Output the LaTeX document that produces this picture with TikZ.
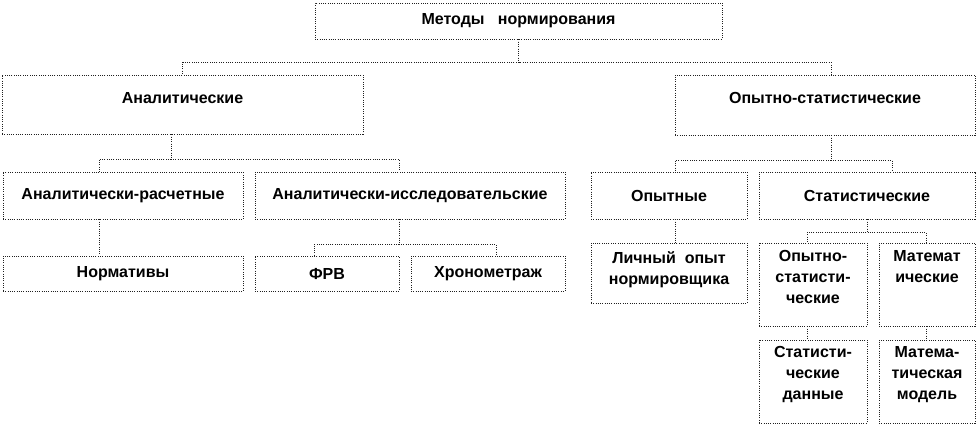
\documentclass[tikz,border=0pt]{standalone}
\usepackage{fontspec}
\setmainfont{Liberation Sans}
\usetikzlibrary{positioning, calc}
\definecolor{LineGray}{HTML}{202020}
\tikzset{
    % Box styles
    methodbox/.style={
        rectangle,
        draw=LineGray,
        densely dotted,
        line width=0.7pt,
        fill=white,
        align=center,
        inner sep=2pt,
        font=\bfseries\fontsize{12}{15.7}\selectfont
    },
    % Connector style
    link/.style={
        draw=LineGray,
        densely dotted,
        line width=0.7pt
    }
}
\begin{document}
\begin{tikzpicture}[x=0.75pt, y=-0.75pt]
    \useasboundingbox (0,0) rectangle (978,426);

    % Top level
    \node[methodbox, minimum width=407*0.75pt, minimum height=36*0.75pt] (metody) at (518.5,21) {Методы \ \ нормирования};

    % Second level
    \node[methodbox, text depth=10pt, minimum width=361*0.75pt, minimum height=59*0.75pt] (anal) at (182.5,104.5) {Аналитические};
    \node[methodbox, text depth=10pt, minimum width=300*0.75pt, minimum height=60*0.75pt] (opst) at (825,105) {Опытно-статистические};

    % Third level
    \node[methodbox, minimum width=240*0.75pt, minimum height=47*0.75pt] (ar) at (123,195.5) {Аналитически-расчетные};
    \node[methodbox, minimum width=310*0.75pt, minimum height=47*0.75pt] (ai) at (410,195.5) {Аналитически-исследовательские};
    \node[methodbox, minimum width=156*0.75pt, minimum height=47*0.75pt] (opyt) at (669,195.5) {Опытные};
    \node[methodbox, minimum width=216*0.75pt, minimum height=47*0.75pt] (stat) at (867,195.5) {Статистические};

    % Fourth level
    \node[methodbox, minimum width=240*0.75pt, minimum height=35*0.75pt] (norm) at (123,273.5) {Нормативы};
    \node[methodbox, minimum width=144*0.75pt, minimum height=35*0.75pt] (frv) at (327,273.5) {ФРВ};
    \node[methodbox, minimum width=154*0.75pt, minimum height=35*0.75pt] (hron) at (488,273.5) {Хронометраж};
    \node[methodbox, minimum width=156*0.75pt, minimum height=60*0.75pt] (lichn) at (669,273) {Личный \ опыт\\нормировщика\\[-8.1pt]~};
    \node[methodbox, minimum width=108*0.75pt, minimum height=83*0.75pt] (os) at (813,284.5) {Опытно-\\статисти-\\ческие\\[-4.4pt]~};
    \node[methodbox, minimum width=96*0.75pt, minimum height=83*0.75pt] (mat) at (927,284.5) {Математ\\ические\\[11.4pt]~};

    % Fifth level
    \node[methodbox, minimum width=108*0.75pt, minimum height=83*0.75pt] (sd) at (813,381.5) {Статисти-\\ческие\\данные\\[-2.8pt]~};
    \node[methodbox, minimum width=96*0.75pt, minimum height=83*0.75pt] (mm) at (927,381.5) {Матема-\\тическая\\модель\\[-2.8pt]~};

    % Connectors
    \draw[link] (metody.south) -- ++(0,23) -| (anal.north);
    \draw[link] (metody.south) -- ++(0,23) -| ($(opst.north)+(6,0)$);
    \draw[link] ($(anal.south)+(-11.5,0)$) -- ++(0,25) -| ($(ar.north)+(-24,0)$);
    \draw[link] ($(anal.south)+(-11.5,0)$) -- ++(0,25) -| ($(ai.north)+(-11,0)$);
    \draw[link] ($(ar.south)+(-24,0)$) -- ($(norm.north)+(-24,0)$);
    \draw[link] ($(ai.south)+(-11,0)$) -- ++(0,25) -| ($(frv.north)+(-13,0)$);
    \draw[link] ($(ai.south)+(-11,0)$) -- ++(0,25) -| ($(hron.north)+(8,0)$);
    \draw[link] ($(opst.south)+(6,0)$) -- ++(0,25) -| ($(opyt.north)+(6,0)$);
    \draw[link] ($(opst.south)+(6,0)$) -- ++(0,25) -| ($(stat.north)+(25,0)$);
    \draw[link] ($(opyt.south)+(6,0)$) -- ($(lichn.north)+(6,0)$);
    \draw[link] (stat.south) -- ++(0,13) -| ($(os.north)+(-6,0)$);
    \draw[link] (stat.south) -- ++(0,13) -| ($(mat.north)+(-1,0)$);
    \draw[link] ($(os.south)+(-6,0)$) -- ($(sd.north)+(-6,0)$);
    \draw[link] ($(mat.south)+(-1,0)$) -- ($(mm.north)+(-1,0)$);
\end{tikzpicture}
\end{document}
